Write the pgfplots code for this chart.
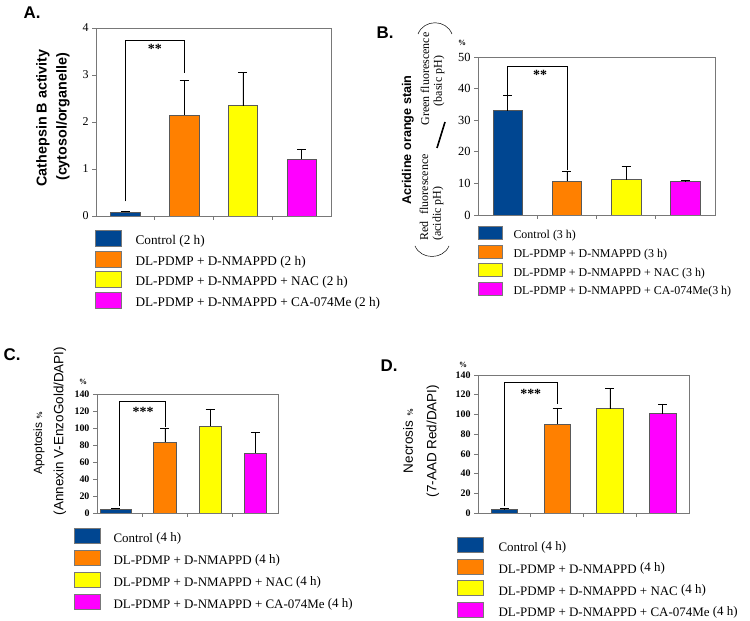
\documentclass[border=0pt]{standalone}
\usepackage{fontspec}
\setmainfont{Liberation Serif}
\setsansfont{Liberation Sans}
\usepackage{pgfplots}
\pgfplotsset{compat=1.18}
\definecolor{cblue}{RGB}{0,70,145}
\definecolor{corange}{RGB}{255,128,0}
\definecolor{cyellow}{RGB}{255,255,0}
\definecolor{cmag}{RGB}{255,0,255}
\definecolor{axgray}{RGB}{120,120,120}
\pgfplotsset{
  panel/.style={
    scale only axis, ybar, bar shift=0pt, bar width=0.5,
    xmin=0.5, xmax=4.5, ymin=0,
    xtick={1.5,2.5,3.5}, xticklabels={},
    axis line style={axgray, line width=0.6pt},
    tick style={axgray, line width=0.6pt},
    tick align=outside, ytick pos=left, xtick pos=bottom,
    major tick length=4bp,
    /pgf/number format/assume math mode=true,
    legend cell align=left,
  },
  barplot/.style={fill=#1, draw=black!65, line width=0.5pt,
    error bars/.cd, y dir=plus, y explicit,
    error bar style={black, line width=0.5pt},
    error mark options={rotate=90, black, mark size=4.5bp, line width=0.5pt}},
  bracket/.style={sharp plot, black, line width=0.5pt, mark=none, forget plot},
}
\begin{document}
\begin{tikzpicture}
\path[use as bounding box] (0bp,0bp) rectangle (750bp,621bp);

% ---------------- Panel A
\begin{axis}[panel, at={(96bp,405bp)}, width=235bp, height=188bp,
  ymax=4, ytick={0,1,2,3,4},
  yticklabel style={font=\fontsize{12}{12}\selectfont},
  legend image code/.code={\draw[#1, draw=axgray] (0bp,-5.5bp) rectangle (26bp,10.5bp);},
  legend style={draw=none, fill=none, at={(-0.004,-0.0745)}, anchor=north west,
    inner sep=0pt, outer sep=0pt, row sep=4.1bp, column sep=14bp,
    nodes={inner sep=0pt, font=\fontsize{13.3}{13.3}\selectfont}},
]
\addplot[barplot=cblue] coordinates {(1,0.08) +- (0,0.03)};
\addplot[barplot=corange] coordinates {(2,2.15) +- (0,0.73)};
\addplot[barplot=cyellow] coordinates {(3,2.35) +- (0,0.71)};
\addplot[barplot=cmag] coordinates {(4,1.21) +- (0,0.22)};
\addplot[bracket] coordinates {(1,0.31) (1,3.74) (2,3.74) (2,3.05)};
\node[font=\bfseries\fontsize{14}{14}\selectfont] at (axis cs:1.5,3.55) {**};
\legend{Control (2 h), DL-PDMP + D-NMAPPD (2 h), DL-PDMP + D-NMAPPD + NAC (2 h), DL-PDMP + D-NMAPPD + CA-074Me (2 h)}
\end{axis}

% ---------------- Panel B
\begin{axis}[panel, at={(478bp,406bp)}, width=237bp, height=158bp,
  ymax=50, ytick={0,10,20,30,40,50},
  yticklabel style={font=\fontsize{12.5}{12.5}\selectfont},
  legend image code/.code={\draw[#1, draw=axgray] (0bp,-4bp) rectangle (24bp,9bp);},
  legend style={draw=none, fill=none, at={(0,-0.0696)}, anchor=north west,
    inner sep=0pt, outer sep=0pt, row sep=4.6bp, column sep=11bp,
    nodes={inner sep=0pt, font=\fontsize{12}{12}\selectfont}},
]
\addplot[barplot=cblue] coordinates {(1,33) +- (0,5)};
\addplot[barplot=corange] coordinates {(2,10.7) +- (0,3.3)};
\addplot[barplot=cyellow] coordinates {(3,11.2) +- (0,4.3)};
\addplot[barplot=cmag] coordinates {(4,10.6) +- (0,0.3)};
\addplot[bracket] coordinates {(1,38.1) (1,47.05) (2,47.05) (2,14.2)};
\node[font=\bfseries\fontsize{14}{14}\selectfont] at (axis cs:1.55,44.3) {**};
\legend{Control (3 h), DL-PDMP + D-NMAPPD (3 h), DL-PDMP + D-NMAPPD + NAC (3 h), DL-PDMP + D-NMAPPD + CA-074Me(3 h)}
\end{axis}

% ---------------- Panel C
\begin{axis}[panel, at={(97bp,108bp)}, width=181bp, height=119bp,
  ymax=140, ytick={0,20,...,140},
  yticklabel style={font=\bfseries\fontsize{10}{10}\selectfont},
  legend image code/.code={\draw[#1, draw=axgray] (0bp,-5bp) rectangle (26bp,10bp);},
  legend style={draw=none, fill=none, at={(-0.127,-0.126)}, anchor=north west,
    inner sep=0pt, outer sep=0pt, row sep=5.8bp, column sep=13bp,
    nodes={inner sep=0pt, font=\fontsize{13}{13}\selectfont}},
]
\addplot[bar width=0.7, bar shift=-4bp, barplot=cblue] coordinates {(1,4.5) +- (0,1.5)};
\addplot[barplot=corange] coordinates {(2,83.5) +- (0,15.7)};
\addplot[barplot=cyellow] coordinates {(3,102) +- (0,20.4)};
\addplot[barplot=cmag] coordinates {(4,70.6) +- (0,24.3)};
\addplot[bracket] coordinates {(1,7.8) (1,131.4) (2,131.4) (2,101.5)};
\node[font=\bfseries\fontsize{14}{14}\selectfont] at (axis cs:1.52,119) {***};
\legend{Control \raisebox{1.5bp}{(4 h)}, DL-PDMP + D-NMAPPD \raisebox{1.5bp}{(4 h)}, DL-PDMP + D-NMAPPD + NAC \raisebox{1.5bp}{(4 h)}, DL-PDMP + D-NMAPPD + CA-074Me \raisebox{1.5bp}{(4 h)}}
\end{axis}

% ---------------- Panel D
\begin{axis}[panel, at={(478bp,108bp)}, width=211bp, height=138bp,
  ymax=140, ytick={0,20,...,140},
  yticklabel style={font=\bfseries\fontsize{10}{10}\selectfont},
  legend image code/.code={\draw[#1, draw=axgray] (0bp,-5bp) rectangle (26bp,10bp);},
  legend style={draw=none, fill=none, at={(-0.0995,-0.174)}, anchor=north west,
    inner sep=0pt, outer sep=0pt, row sep=5.4bp, column sep=15bp,
    nodes={inner sep=0pt, font=\fontsize{13}{13}\selectfont}},
]
\addplot[barplot=cblue] coordinates {(1,3.4) +- (0,1.6)};
\addplot[barplot=corange] coordinates {(2,90.4) +- (0,15.9)};
\addplot[barplot=cyellow] coordinates {(3,105.9) +- (0,20.3)};
\addplot[barplot=cmag] coordinates {(4,100.9) +- (0,9.8)};
\addplot[bracket] coordinates {(1,6.7) (1,132.2) (2,132.2) (2,110.3)};
\node[font=\bfseries\fontsize{14}{14}\selectfont] at (axis cs:1.5,121) {***};
\legend{Control \raisebox{1.5bp}{(4 h)}, DL-PDMP + D-NMAPPD \raisebox{1.5bp}{(4 h)}, DL-PDMP + D-NMAPPD + NAC \raisebox{1.5bp}{(4 h)}, DL-PDMP + D-NMAPPD + CA-074Me \raisebox{1.5bp}{(4 h)}}
\end{axis}

% ---------------- labels and decorations (pixel coordinates, origin top-left)
\begin{scope}[x=1bp, y=-1bp, shift={(0bp,621bp)}]
\node[font=\sffamily\bfseries\fontsize{17}{17}\selectfont] at (32,13) {A.};
\node[font=\sffamily\bfseries\fontsize{17}{17}\selectfont] at (385,33) {B.};
\node[font=\sffamily\bfseries\fontsize{17}{17}\selectfont] at (12,355) {C.};
\node[font=\sffamily\bfseries\fontsize{17}{17}\selectfont] at (389,366) {D.};
% A
\node[rotate=90, font=\sffamily\bfseries\fontsize{14.4}{14.4}\selectfont] at (43,118) {Cathepsin B activity};
\node[rotate=90, font=\sffamily\bfseries\fontsize{14.4}{14.4}\selectfont] at (63,117) {(cytosol/organelle)};
% B
\node[rotate=90, font=\sffamily\bfseries\fontsize{12.7}{12.7}\selectfont] at (408,140) {Acridine orange stain};
\node[rotate=90, font=\fontsize{12}{12}\selectfont, inner sep=0pt, anchor=west] at (424,241) {Red\hspace{7bp}fluorescence};
\node[rotate=90, font=\fontsize{12}{12}\selectfont, inner sep=0pt, anchor=west] at (438,241) {(acidic pH)};
\node[rotate=90, font=\fontsize{12}{12}\selectfont, inner sep=0pt] at (425,79) {Green fluorescence};
\node[rotate=90, font=\fontsize{12}{12}\selectfont, inner sep=0pt] at (439,81) {(basic pH)};
\draw[line width=1.6pt] (437,148) -- (445,122);
\draw[line width=0.5pt] (415,246) .. controls (421,260) and (443,260) .. (449,246);
\draw[line width=0.5pt] (418,34) .. controls (424,19) and (446,19) .. (452,34);
\node[font=\bfseries\fontsize{8}{8}\selectfont] at (462,43) {\%};
% C
\node[rotate=90, font=\sffamily\fontsize{12}{12}\selectfont] at (39,443) {Apoptosis \textbf{\fontsize{8}{8}\selectfont\rmfamily\%}};
\node[rotate=90, font=\sffamily\fontsize{13.5}{13.5}\selectfont] at (60,431) {(Annexin V-EnzoGold/DAPI)};
\node[font=\bfseries\fontsize{8}{8}\selectfont] at (83,382) {\%};
% D
\node[rotate=90, font=\sffamily\fontsize{13.5}{13.5}\selectfont] at (408,441) {Necrosis \textbf{\fontsize{8}{8}\selectfont\rmfamily\%}};
\node[rotate=90, font=\sffamily\fontsize{13.5}{13.5}\selectfont] at (433,441) {(7-AAD Red/DAPI)};
\node[font=\bfseries\fontsize{8}{8}\selectfont] at (463,365) {\%};
\end{scope}
\end{tikzpicture}
\end{document}
